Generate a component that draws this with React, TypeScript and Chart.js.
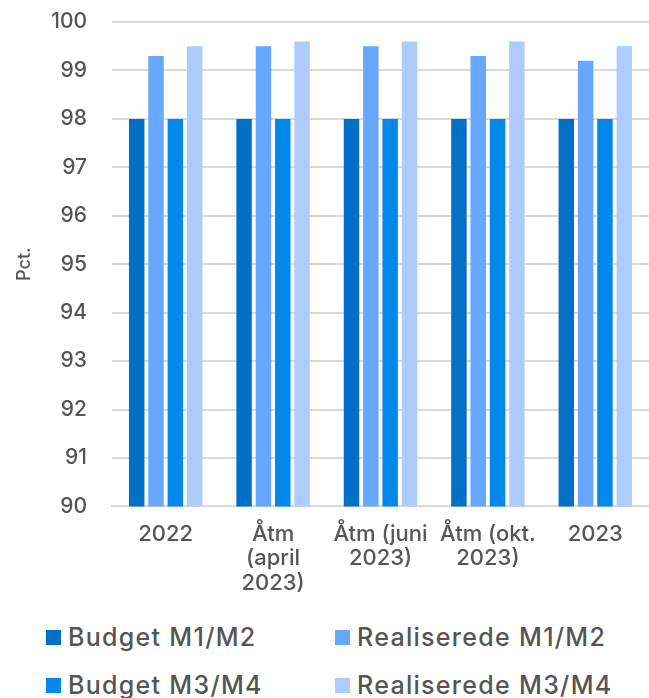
import React, { useEffect, useRef } from "react";
import { Chart, registerables } from "chart.js";

Chart.register(...registerables);

const categories: (string | string[])[] = [
  "2022",
  ["Åtm", "(april", "2023)"],
  ["Åtm (juni", "2023)"],
  ["Åtm (okt.", "2023)"],
  "2023",
];
const budgetM1M2 = [98, 98, 98, 98, 98];
const realM1M2 = [99.3, 99.5, 99.5, 99.3, 99.2];
const budgetM3M4 = [98, 98, 98, 98, 98];
const realM3M4 = [99.5, 99.6, 99.6, 99.6, 99.5];
const seriesNames = ["Budget M1/M2", "Realiserede M1/M2", "Budget M3/M4", "Realiserede M3/M4"];
const colors = ["#0070C6", "#66A8FF", "#0088EA", "#ADCBFF"];

const FONT = "Inter, 'Noto Sans', sans-serif";
const TEXT = "#555555";

export default function App() {
  const ref = useRef<HTMLCanvasElement>(null);
  useEffect(() => {
    const values = [budgetM1M2, realM1M2, budgetM3M4, realM3M4];
    const chart = new Chart(ref.current!, {
      type: "bar",
      data: {
        labels: categories as any,
        datasets: values.map((v, i) => ({
          label: seriesNames[i],
          data: v,
          backgroundColor: colors[i],
          borderWidth: 0,
          categoryPercentage: 0.72,
          barPercentage: 0.8,
        })),
      },
      options: {
        animation: false,
        responsive: false,
        maintainAspectRatio: false,
        layout: { padding: { top: 0, right: 0, bottom: 10, left: 0 } },
        plugins: { legend: { display: false }, tooltip: { enabled: false } },
        scales: {
          x: {
            grid: { display: false },
            border: { color: "#d9d9d9", width: 2 },
            ticks: {
              color: TEXT,
              font: { family: FONT, size: 22, weight: 500, lineHeight: 1.1 },
              maxRotation: 0,
              autoSkip: false,
              padding: 8,
            },
          },
          y: {
            min: 90,
            max: 100,
            border: { display: false },
            grid: { color: "#d9d9d9", lineWidth: 2, drawTicks: false },
            afterFit: (scale: any) => {
              scale.width = 112;
              scale.paddingTop = 22;
              scale.paddingBottom = 0;
            },
            ticks: {
              stepSize: 1,
              color: TEXT,
              font: { family: FONT, size: 21, weight: 500 },
              padding: 25,
            },
            title: {
              display: true,
              text: "Pct.",
              color: TEXT,
              font: { family: FONT, size: 18, weight: 500 },
              padding: { top: 14, bottom: 0 },
            },
          },
        },
      },
    });
    return () => chart.destroy();
  }, []);

  const legendItem = (i: number) => (
    <div key={i} style={{ display: "flex", alignItems: "center" }}>
      <span style={{ width: 15, height: 15, background: colors[i], marginRight: 7, display: "inline-block", flex: "none" }} />
      <span>{seriesNames[i]}</span>
    </div>
  );

  return (
    <div style={{ position: "absolute", left: 0, top: 0, width: 649, height: 698, background: "#fff", overflow: "hidden" }}>
      <canvas ref={ref} width={649} height={613} style={{ display: "block" }} />
      <div
        style={{
          position: "absolute",
          left: 46,
          top: 625,
          display: "grid",
          gridTemplateColumns: "289px 314px",
          rowGap: 23,
          fontFamily: FONT,
          fontSize: 25,
          fontWeight: 500,
          letterSpacing: "1.3px",
          color: TEXT,
          lineHeight: "25px",
          whiteSpace: "nowrap",
        }}
      >
        {legendItem(0)}
        {legendItem(1)}
        {legendItem(2)}
        {legendItem(3)}
      </div>
    </div>
  );
}
